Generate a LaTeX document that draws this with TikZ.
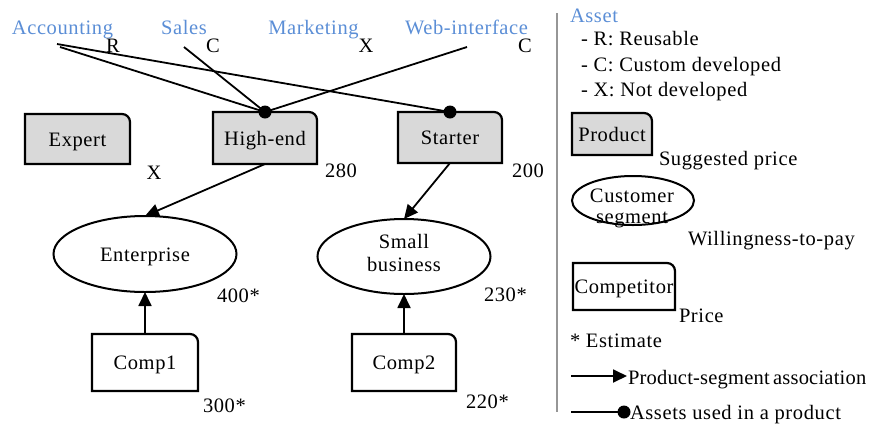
\documentclass[tikz,border=0pt]{standalone}
\usepackage{fontspec}
\setmainfont{Liberation Serif}[LetterSpace=3]
\newfontfamily\tightfont{Liberation Serif}[LetterSpace=1]
\usetikzlibrary{arrows.meta,shapes.geometric,backgrounds}
\definecolor{assetblue}{RGB}{91,142,214}
\definecolor{prodfill}{RGB}{217,217,217}
\definecolor{rulegray}{RGB}{150,150,150}
\newcommand{\fs}{\fontsize{20.5}{23}\selectfont}
% outline of a box with a rounded top-right corner
\newcommand{\tabshape}[2]{%
  \draw[tabline,fill=#2] (#1.south west) -- (#1.north west)
    -- ([xshift=-8pt]#1.north east) arc[start angle=90,end angle=0,radius=8pt]
    -- (#1.south east) -- cycle;}

\begin{document}
\begin{tikzpicture}[x=1pt,y=-1pt,
  every node/.style={font=\fs,inner sep=0pt,outer sep=0pt},
  lbl/.style={anchor=base},
  lblw/.style={anchor=base west},
  asset/.style={anchor=base,text=assetblue},
  boxnode/.style={rectangle,text height=15pt,text depth=1pt},
  tabline/.style={line width=2.2pt,line join=miter},
  segment/.style={ellipse,draw,line width=2pt,align=center,text height=15pt,text depth=1pt},
  dot/.style={circle,fill=black,minimum size=13pt},
  assoc/.style={line width=1.8pt,-{Triangle[length=14pt,width=13pt]}},
  uses/.style={line width=1.8pt}]
\useasboundingbox (0,0) rectangle (876,424);

% assets
\node[asset] (accounting) at (62.5,34) {Accounting};
\node[asset] (sales) at (184,34) {Sales};
\node[asset] (marketing) at (313.5,34) {Marketing};
\node[asset] (webif) at (466.5,34) {Web-interface};
\node[lbl] (accR) at (113,52) {R};
\node[lbl] (salC) at (213,52) {C};
\node[lbl] (mktX) at (366,52) {X};
\node[lbl] (webC) at (525,52) {C};
\coordinate (acc1) at (57,44);
\coordinate (acc2) at (60,47);
\coordinate (sal) at (184,47);
\coordinate (web) at (467,47);

% products
\node[boxnode,minimum width=105pt,minimum height=50pt] (expert) at (77.5,139) {Expert};
\node[boxnode,minimum width=104pt,minimum height=52pt] (highend) at (265,138) {High-end};
\node[boxnode,minimum width=104pt,minimum height=51pt] (starter) at (450,137.5) {Starter};
\node[lbl] (expertX) at (154,179) {X};
\node[lblw] (highendP) at (325,177) {280};
\node[lblw] (starterP) at (512,177) {200};

% customer segments
\node[segment,minimum width=183pt,minimum height=76pt] (enterprise) at (145,254) {Enterprise};
\node[segment,minimum width=173pt,minimum height=75pt,text height=,text depth=] (smallbiz) at (404,256.5) {Small\\business\strut};
\node[lblw] (enterpriseP) at (217,302) {400*};
\node[lblw] (smallbizP) at (484,301) {230*};

% competitors
\node[boxnode,minimum width=106pt,minimum height=57pt] (comp1) at (145,362.5) {Comp1};
\node[boxnode,minimum width=104pt,minimum height=57pt] (comp2) at (404,362.5) {Comp2};
\node[lblw] (comp1P) at (203,412) {300*};
\node[lblw] (comp2P) at (466,408) {220*};

% legend
\node[lblw,text=assetblue] (legasset) at (570,22) {Asset};
\node[lblw] (legR) at (581,45) {- R: Reusable};
\node[lblw] (legC) at (581,71) {- C: Custom developed};
\node[lblw] (legX) at (581,96) {- X: Not developed};
\node[boxnode,minimum width=80pt,minimum height=42pt] (legprod) at (612,134) {Product};
\node[lblw] (legprodP) at (659,165) {Suggested price};
\node[ellipse,draw,line width=2pt,minimum width=122pt,minimum height=49pt] (legseg) at (633,200.5) {};
\node[align=center,anchor=center] (legsegtxt) at (632,208) {Customer\\[-2pt]segment};
\node[lblw] (legsegP) at (688,245) {Willingness-to-pay};
\node[boxnode,minimum width=102pt,minimum height=47pt] (legcomp) at (624,286.5) {Competitor};
\node[lblw] (legcompP) at (679,322) {Price};
\node[lblw] (legest) at (570,347) {* Estimate};
\coordinate (legA1) at (571,376);
\coordinate (legA2) at (627,376);
\node[lblw,font=\tightfont\fs] (legassoc) at (628,384) {Product-segment\hspace{-2pt} association};
\coordinate (legD1) at (571,412);
\node[dot] (legdot) at (624,412) {};
\node[lblw] (leguses) at (630,419) {Assets used in a product};

% asset-to-product dots
\node[dot] (hdot) at (highend.north) {};
\node[dot] (sdot) at (starter.north) {};

% box outlines behind the texts
\begin{scope}[on background layer]
  \tabshape{expert}{prodfill}
  \tabshape{highend}{prodfill}
  \tabshape{starter}{prodfill}
  \tabshape{legprod}{prodfill}
  \tabshape{comp1}{white}
  \tabshape{comp2}{white}
  \tabshape{legcomp}{white}
\end{scope}

% assets used in a product
\draw[uses] (acc1) -- (sdot.center);
\draw[uses] (acc2) -- (hdot.center);
\draw[uses] (sal) -- (hdot.center);
\draw[uses] (web) -- (hdot.center);

% product-segment associations and competitors
\draw[assoc] (highend.south) -- (enterprise.north);
\draw[assoc] (starter.south) -- (smallbiz.north);
\draw[assoc] (comp1.north) -- (enterprise.south);
\draw[assoc] (comp2.north) -- (smallbiz.south);

% legend connectors
\draw[assoc] (legA1) -- (legA2);
\draw[uses] (legD1) -- (legdot.center);

% separator
\draw[rulegray,line width=2pt] (557,13) -- (557,412);
\end{tikzpicture}
\end{document}
